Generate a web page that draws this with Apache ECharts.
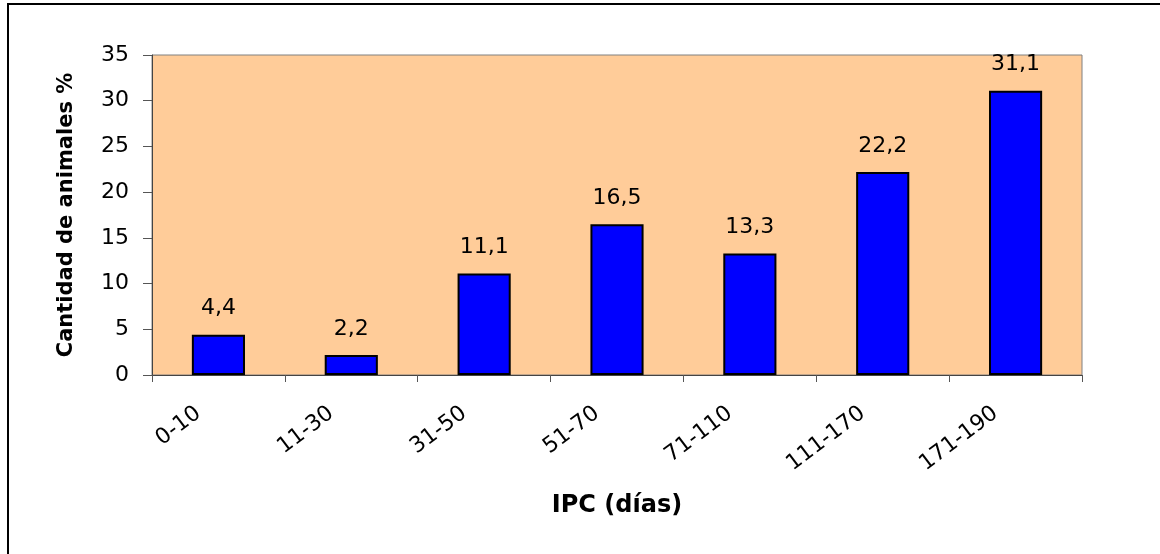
<!DOCTYPE html>
<html>
<head>
<meta charset="utf-8">
<script src="https://cdn.jsdelivr.net/npm/echarts@6/dist/echarts.min.js"></script>
<style>
html,body{margin:0;padding:0;background:#fff;}
#chart{width:1160px;height:554px;}
</style>
</head>
<body>
<div id="chart"></div>
<script>
const categories = ['0-10', '11-30', '31-50', '51-70', '71-110', '111-170', '171-190'];
const values = [4.4, 2.2, 11.1, 16.5, 13.3, 22.2, 31.1];
const yTicks = [0, 5, 10, 15, 20, 25, 30, 35];
const xTitle = 'IPC (días)';
const yTitle = 'Cantidad de animales %';

const FONT = '"DejaVu Sans", "Liberation Sans", Arial, sans-serif';
const chart = echarts.init(document.getElementById('chart'), null, {renderer: 'canvas'});
chart.setOption({
  animation: false,
  backgroundColor: '#ffffff',
  graphic: [{
    type: 'rect',
    shape: {x: 8, y: 4, width: 1200, height: 600},
    style: {fill: 'none', stroke: '#000', lineWidth: 2},
    silent: true
  }],
  grid: {
    left: 152, right: 78, top: 55, bottom: 179,
    show: true, backgroundColor: '#FFCC99', borderColor: '#808080', borderWidth: 1
  },
  xAxis: {
    type: 'category',
    data: categories,
    axisLine: {lineStyle: {color: '#444', width: 1}},
    axisTick: {show: true, length: 7, alignWithLabel: false, lineStyle: {color: '#555'}},
    axisLabel: {rotate: 37, margin: 21, padding: [0, 25, 0, 0], color: '#000', fontSize: 22, fontFamily: FONT},
    name: xTitle,
    nameLocation: 'middle',
    nameGap: 119,
    nameTextStyle: {color: '#000', fontSize: 24, fontWeight: 'bold', fontFamily: FONT}
  },
  yAxis: {
    type: 'value',
    min: 0, max: 35, interval: 5,
    axisLine: {show: true, lineStyle: {color: '#444', width: 1}},
    axisTick: {show: true, length: 9, lineStyle: {color: '#555'}},
    splitLine: {show: false},
    axisLabel: {margin: 23, color: '#000', fontSize: 22, fontFamily: FONT,
      formatter: v => yTicks.includes(v) ? String(v) : ''},
    name: yTitle,
    nameLocation: 'middle',
    nameGap: 75,
    nameTextStyle: {color: '#000', fontSize: 21, fontWeight: 'bold', fontFamily: FONT}
  },
  series: [{
    type: 'bar',
    data: values,
    barWidth: '40%',
    itemStyle: {color: '#0000FF', borderColor: '#000', borderWidth: 2},
    label: {
      show: true, position: 'top', distance: 15,
      color: '#000', fontSize: 22, fontFamily: FONT,
      formatter: p => String(p.value).replace('.', ',')
    }
  }]
});
</script>
</body>
</html>
